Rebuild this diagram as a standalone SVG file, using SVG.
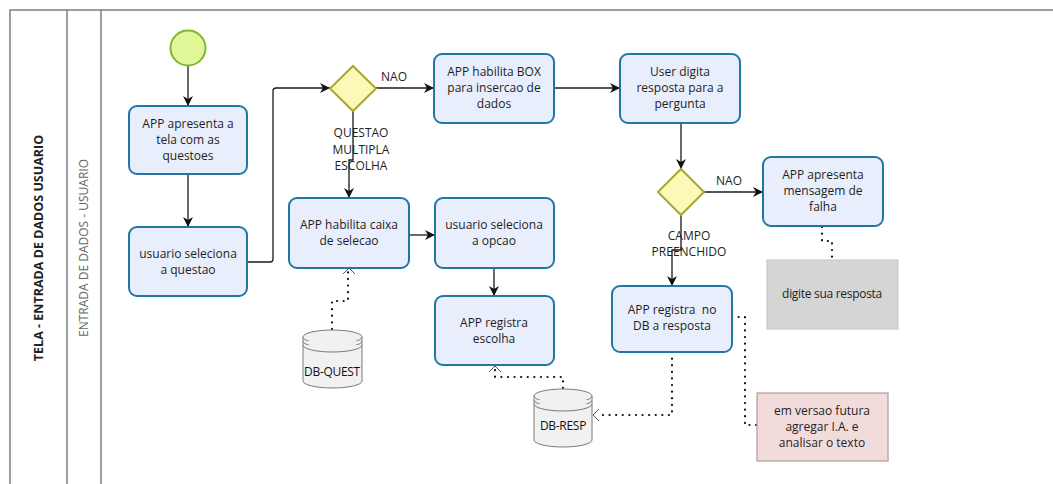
<svg xmlns="http://www.w3.org/2000/svg" width="1053" height="484" viewBox="0 0 1053 484">
  <style>
    .lane { fill: none; stroke: #7f7f7f; stroke-width: 1.5; }
    .task { fill: #e8eefc; stroke: #1f78a4; stroke-width: 2; }
    .gw { fill: #fbf9b8; stroke: #a7a82c; stroke-width: 2; }
    .flow { fill: none; stroke: #1a1a1a; stroke-width: 1.3; }
    .assoc { fill: none; stroke: #111; stroke-width: 2.2; stroke-dasharray: 0.1 6.5; stroke-linecap: round; }
    .chev { fill: none; stroke: #555; stroke-width: 1; }
    .db { fill: #f1f1f1; stroke: #7a7a7a; stroke-width: 1; }
    .t { font-family: "Open Sans", "Noto Sans", sans-serif; font-size: 12px; fill: #1e1e1e; text-anchor: middle; }
    .lbl { font-family: "Open Sans", "Noto Sans", sans-serif; font-size: 12px; fill: #1e1e1e; text-anchor: middle; }
  </style>
  <defs>
    <marker id="arr" viewBox="0 0 10 10" refX="10" refY="5" markerWidth="10" markerHeight="10" markerUnits="userSpaceOnUse" orient="auto">
      <path d="M0,0 L10,5 L0,10 L3,5 Z" fill="#111"/>
    </marker>
  </defs>

  <!-- pool and lane frame -->
  <g id="pool">
    <path class="lane" d="M10,484 V10 H1053"/>
    <line class="lane" x1="67" y1="10" x2="67" y2="484"/>
    <line class="lane" x1="101" y1="10" x2="101" y2="484"/>
    <text transform="translate(43,248) rotate(-90)" font-family="Open Sans, Noto Sans, sans-serif" font-size="12.5" font-weight="bold" fill="#222" text-anchor="middle">TELA - ENTRADA DE DADOS USUARIO</text>
    <text transform="translate(88,248) rotate(-90)" font-family="Open Sans, Noto Sans, sans-serif" font-size="12" fill="#666" text-anchor="middle">ENTRADA DE DADOS - USUARIO</text>
  </g>

  <!-- connectors -->
  <g id="connectors">
    <path class="flow" marker-end="url(#arr)" d="M188,66 V106"/>
    <path class="flow" marker-end="url(#arr)" d="M188,174 V227"/>
    <path class="flow" marker-end="url(#arr)" d="M247,262 H270 Q273,262 273,259 V91 Q273,88 276,88 H330"/>
    <path class="flow" marker-end="url(#arr)" d="M376,88 H434"/>
    <path class="flow" marker-end="url(#arr)" d="M554,88 H620"/>
    <path class="flow" marker-end="url(#arr)" d="M353,111 V160 H349 V198"/>
    <path class="flow" marker-end="url(#arr)" d="M409,235 H435"/>
    <path class="flow" marker-end="url(#arr)" d="M494,268 V296"/>
    <path class="flow" marker-end="url(#arr)" d="M681,123 V169"/>
    <path class="flow" marker-end="url(#arr)" d="M704,192 H763"/>
    <path class="flow" marker-end="url(#arr)" d="M681,215 V250 H672 V286"/>

    <!-- data associations -->
    <path class="assoc" d="M332,329 V301 H348 V272"/>
    <path class="chev" d="M343,274 L349,268 L355,274"/>
    <path class="assoc" d="M563,388 V377 H495 V370"/>
    <path class="chev" d="M489,372 L495,366 L501,372"/>
    <path class="assoc" d="M672,352 V415 H597"/>
    <path class="chev" d="M599,409 L593,415 L599,421"/>
    <path class="assoc" d="M732,317 H745 V425 H757"/>
    <path class="assoc" d="M822,227 V241 H832 V258"/>

    <text class="lbl" x="394" y="81">NAO</text>
    <text class="lbl" x="361" y="137">QUESTAO</text>
    <text class="lbl" x="361" y="154">MULTIPLA</text>
    <text class="lbl" x="361" y="170">ESCOLHA</text>
    <text class="lbl" x="729" y="185">NAO</text>
    <text class="lbl" x="689" y="240">CAMPO</text>
    <text class="lbl" x="689" y="256">PREENCHIDO</text>
  </g>

  <g id="start">
    <circle cx="188" cy="48" r="17.5" fill="#e0f89a" stroke="#7cba2a" stroke-width="2"/>
  </g>

  <g id="apresenta-tela">
    <rect class="task" x="129" y="106" width="118" height="68" rx="8"/>
    <text class="t" x="188" y="128">APP apresenta a</text>
    <text class="t" x="188" y="144">tela com as</text>
    <text class="t" x="188" y="160">questoes</text>
  </g>

  <g id="seleciona-questao">
    <rect class="task" x="129" y="227" width="118" height="69" rx="8"/>
    <text class="t" x="188" y="258">usuario seleciona</text>
    <text class="t" x="188" y="274">a questao</text>
  </g>

  <g id="gw-tipo">
    <polygon class="gw" points="353,66 376,88.5 353,111 330,88.5"/>
  </g>

  <g id="habilita-box">
    <rect class="task" x="434" y="54" width="120" height="69" rx="8"/>
    <text class="t" x="494" y="76">APP habilita BOX</text>
    <text class="t" x="494" y="92">para insercao de</text>
    <text class="t" x="494" y="108">dados</text>
  </g>

  <g id="user-digita">
    <rect class="task" x="620" y="54" width="120" height="69" rx="8"/>
    <text class="t" x="680" y="76">User digita</text>
    <text class="t" x="680" y="92">resposta para a</text>
    <text class="t" x="680" y="108">pergunta</text>
  </g>

  <g id="gw-campo">
    <polygon class="gw" points="681,169 704,192 681,215 658,192"/>
  </g>

  <g id="mensagem-falha">
    <rect class="task" x="763" y="157" width="120" height="69" rx="8"/>
    <text class="t" x="823" y="179">APP apresenta</text>
    <text class="t" x="823" y="195">mensagem de</text>
    <text class="t" x="823" y="211">falha</text>
  </g>

  <g id="nota-digite">
    <rect x="767" y="260" width="131" height="69" fill="#d5d5d5" stroke="#c4c4c4" stroke-width="1"/>
    <text class="t" x="832" y="298" letter-spacing="-0.3">digite sua resposta</text>
  </g>

  <g id="registra-resposta">
    <rect class="task" x="612" y="286" width="120" height="66" rx="8"/>
    <text class="t" x="672" y="314" xml:space="preserve">APP registra  no</text>
    <text class="t" x="672" y="330">DB a resposta</text>
  </g>

  <g id="nota-ia">
    <rect x="757" y="393" width="131" height="68" fill="#f2dcdb" stroke="#b79a9a" stroke-width="1.2"/>
    <text class="t" x="822" y="415">em versao futura</text>
    <text class="t" x="822" y="431">agregar I.A. e</text>
    <text class="t" x="822" y="447">analisar o texto</text>
  </g>

  <g id="habilita-caixa">
    <rect class="task" x="289" y="198" width="120" height="70" rx="8"/>
    <text class="t" x="349" y="229">APP habilita caixa</text>
    <text class="t" x="349" y="245">de selecao</text>
  </g>

  <g id="seleciona-opcao">
    <rect class="task" x="435" y="198" width="119" height="70" rx="8"/>
    <text class="t" x="494" y="229">usuario seleciona</text>
    <text class="t" x="494" y="245">a opcao</text>
  </g>

  <g id="registra-escolha">
    <rect class="task" x="435" y="296" width="119" height="69" rx="8"/>
    <text class="t" x="494" y="327">APP registra</text>
    <text class="t" x="494" y="343">escolha</text>
  </g>

  <g id="db-quest">
    <path class="db" d="M303,337 A29.5,7 0 0 1 362,337 V381 A29.5,7 0 0 1 303,381 Z"/>
    <path class="db" d="M303,337 A29.5,7 0 0 0 362,337"/>
    <path class="db" d="M303,341 A29.5,7 0 0 0 362,341"/>
    <path class="db" d="M303,345 A29.5,7 0 0 0 362,345"/>
    <text x="332" y="376" font-family="Open Sans, Noto Sans, sans-serif" font-size="12" fill="#111" text-anchor="middle" letter-spacing="-0.3">DB-QUEST</text>
  </g>

  <g id="db-resp">
    <path class="db" d="M534,396 A29,7 0 0 1 592,396 V440 A29,7 0 0 1 534,440 Z"/>
    <path class="db" d="M534,396 A29,7 0 0 0 592,396"/>
    <path class="db" d="M534,400 A29,7 0 0 0 592,400"/>
    <path class="db" d="M534,404 A29,7 0 0 0 592,404"/>
    <text x="563" y="430" font-family="Open Sans, Noto Sans, sans-serif" font-size="12" fill="#111" text-anchor="middle" letter-spacing="-0.3">DB-RESP</text>
  </g>
</svg>
